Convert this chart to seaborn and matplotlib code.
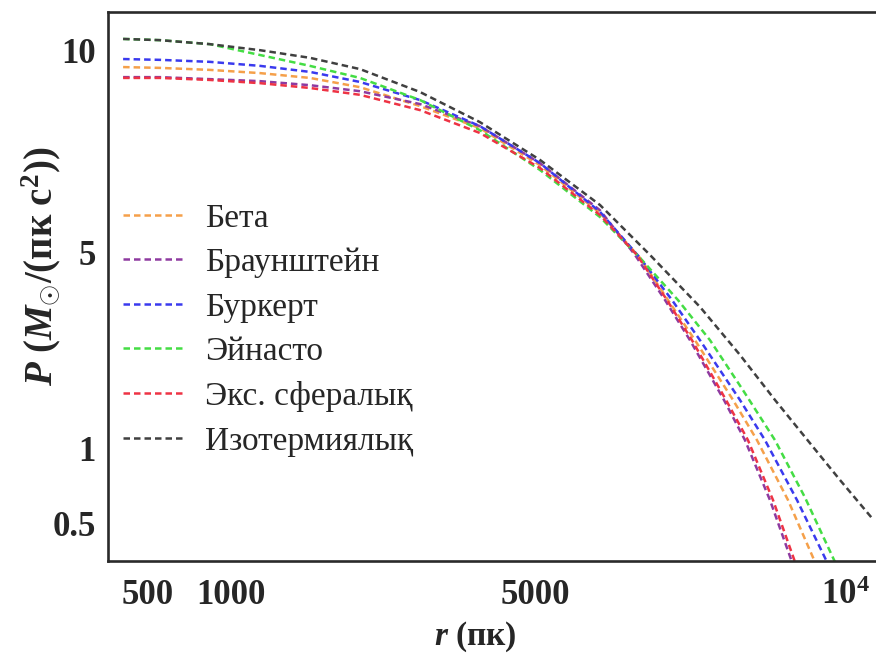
import numpy as np
import matplotlib
matplotlib.use("Agg")
import matplotlib.pyplot as plt
import seaborn as sns

# --- pressure profiles P(r) for the halo models ---
r_beta = [350, 572, 873, 1382, 2039, 2697, 3487, 4276, 5081, 6048, 6694, 7145, 7581, 8194, 8581, 9081, 9516]
p_beta = [9.60, 9.58, 9.53, 9.45, 9.33, 9.10, 8.63, 8.08, 7.16, 5.97, 4.88, 4.02, 3.20, 1.98, 1.16, 0.653, 0.24]

r_braun = [350, 572, 873, 1382, 2039, 2697, 3487, 4276, 5081, 6048, 6613, 7097, 7500, 8048, 8387, 8790, 9145]
p_braun = [9.35, 9.35, 9.30, 9.25, 9.15, 9.00, 8.68, 8.13, 7.21, 6.04, 4.94, 4.02, 3.20, 1.98, 1.16, 0.653, 0.24]

r_burk = [350, 572, 873, 1382, 2039, 2697, 3487, 4276, 5081, 6048, 6694, 7210, 7661, 8306, 8710, 9226, 9710]
p_burk = [9.80, 9.78, 9.73, 9.63, 9.48, 9.23, 8.78, 8.13, 7.21, 6.00, 4.88, 4.02, 3.20, 1.98, 1.16, 0.653, 0.24]

r_ein = [350, 572, 873, 1382, 2039, 2697, 3487, 4276, 5081, 6048, 6694, 7306, 7823, 8355, 8871, 9355, 9839]
p_ein = [10.30, 10.27, 10.17, 9.90, 9.63, 9.33, 8.78, 8.03, 7.04, 5.87, 4.88, 4.02, 3.20, 2.18, 1.16, 0.67, 0.24]

r_exp = [350, 572, 873, 1382, 2039, 2697, 3487, 4276, 5081, 6048, 6645, 7129, 7532, 8081, 8435, 8839, 9194]
p_exp = [9.33, 9.33, 9.28, 9.20, 9.08, 8.91, 8.53, 7.96, 7.09, 5.92, 4.94, 4.02, 3.20, 1.98, 1.16, 0.653, 0.24]

r_iso = [350, 572, 873, 1382, 2039, 2697, 3487, 4276, 5081, 6048, 6855, 7661, 8306, 8871, 9435, 9919, 10435]
p_iso = [10.30, 10.27, 10.17, 10.02, 9.83, 9.55, 8.98, 8.23, 7.29, 6.17, 4.94, 3.88, 2.90, 1.98, 1.10, 0.787, 0.533]

labels = ["Бета", "Браунштейн", "Буркерт", "Эйнасто", "Экс. сфералық", "Изотермиялық"]
colors = ["#f5a04a", "#8e3aa0", "#3a3aee", "#44dd44", "#ee3344", "#404040"]

x_ticks = [500, 1000, 5000, 10000]
x_ticklabels = ["500", "1000", "5000", r"$\mathbf{10^4}$"]
y_ticks = [0.5, 1, 5, 10]
y_ticklabels = ["0.5", "1", "5", "10"]

# relative spacing of the tick marks along each axis (piecewise scale)
x_spacing = [148, 231, 535, 845]
y_spacing = [0, 75, 271, 472]


def piecewise_scale(knots, pos):
    k = np.asarray(knots, float)
    p = np.asarray(pos, float)
    s0 = (p[1] - p[0]) / (k[1] - k[0])
    s1 = (p[-1] - p[-2]) / (k[-1] - k[-2])

    def fwd(v):
        v = np.asarray(v, float)
        out = np.interp(v, k, p)
        out = np.where(v < k[0], p[0] + (v - k[0]) * s0, out)
        out = np.where(v > k[-1], p[-1] + (v - k[-1]) * s1, out)
        return out

    def inv(u):
        u = np.asarray(u, float)
        out = np.interp(u, p, k)
        out = np.where(u < p[0], k[0] + (u - p[0]) / s0, out)
        out = np.where(u > p[-1], k[-1] + (u - p[-1]) / s1, out)
        return out

    return fwd, inv


sns.set_theme(style="white")
plt.rcParams["font.family"] = ["Liberation Serif", "DejaVu Serif"]
plt.rcParams["mathtext.fontset"] = "custom"
plt.rcParams["mathtext.rm"] = "Liberation Serif"
plt.rcParams["mathtext.it"] = "Liberation Serif:italic"
plt.rcParams["mathtext.bf"] = "Liberation Serif:bold"
plt.rcParams["mathtext.bfit"] = "Liberation Serif:bold:italic"

fig = plt.figure(figsize=(8.76, 6.55), dpi=100)
ax = fig.add_axes([108 / 876, 94 / 655, 768 / 876, 549 / 655])

ax.set_xscale("function", functions=piecewise_scale(x_ticks, x_spacing))
ax.set_yscale("function", functions=piecewise_scale(y_ticks, y_spacing))

series = [(r_beta, p_beta), (r_braun, p_braun), (r_burk, p_burk),
          (r_ein, p_ein), (r_exp, p_exp), (r_iso, p_iso)]
for (rx, py), lab, col in zip(series, labels, colors):
    sns.lineplot(x=rx, y=py, ax=ax, color=col, label=lab, estimator=None,
                 sort=False, linewidth=1.8, linestyle=(0, (2.6, 1.6)))

ax.set_xlim(259, 10500)
ax.set_ylim(0.247, 10.97)

ax.set_xticks(x_ticks)
ax.set_xticklabels(x_ticklabels)
ax.set_yticks(y_ticks)
ax.set_yticklabels(y_ticklabels)
ax.minorticks_off()
ax.tick_params(axis="x", length=0, pad=13, labelsize=25)
ax.tick_params(axis="y", length=0, pad=9, labelsize=25)
for t in ax.get_xticklabels() + ax.get_yticklabels():
    t.set_fontweight("bold")

for side in ["left", "bottom", "top"]:
    ax.spines[side].set_linewidth(1.9)
    ax.spines[side].set_color("#2a2a2a")
ax.spines["right"].set_visible(False)

ax.set_xlabel(r"$\mathbfit{r}\ \mathbf{(пк)}$", fontsize=24)
ax.xaxis.set_label_coords(0.478, -0.106)
ax.set_ylabel(r"$\mathbfit{P}\ \mathbf{(}\mathbfit{M}_{\odot}\mathbf{/(пк\ с}^{\mathbf{2}}\mathbf{))}$",
              fontsize=28)
ax.yaxis.set_label_coords(-0.058, 0.537)

leg = ax.legend(loc="upper left", bbox_to_anchor=(0.020, 0.652), frameon=False,
                fontsize=24, handlelength=1.8, handletextpad=0.66,
                labelspacing=0.42, borderpad=0, borderaxespad=0)

fig.savefig("out.png", dpi=100)
